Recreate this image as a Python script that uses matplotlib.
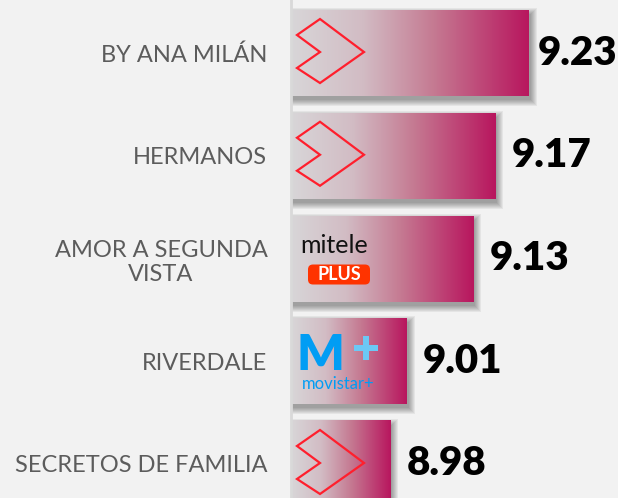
import numpy as np
import matplotlib.pyplot as plt
from matplotlib.colors import LinearSegmentedColormap
from matplotlib.patches import Rectangle, Polygon, FancyBboxPatch

# ratings per show
shows = ['BY ANA MILÁN', 'HERMANOS', 'AMOR A SEGUNDA\nVISTA', 'RIVERDALE', 'SECRETOS DE FAMILIA']
scores = [9.23, 9.17, 9.13, 9.01, 8.98]
platforms = ['atresplayer', 'atresplayer', 'mitele', 'movistar', 'atresplayer']

bg = '#f2f2f2'
grad_cmap = LinearSegmentedColormap.from_list(
    'grad', [(0, '#d8d6d8'), (0.3, '#d2bcc4'), (0.6, '#c57a92'), (1, '#b8165e')])

fig = plt.figure(figsize=(6.18, 4.98), dpi=100, facecolor=bg)
ax = fig.add_axes([291 / 618, 0, 327 / 618, 1])
ax.set_facecolor(bg)

xmin, xmax = 8.80, 9.392
bar_h = 0.837
ypos = np.arange(len(shows))
grad = np.linspace(0, 1, 256).reshape(1, -1)


def to_in(x, y):
    # data -> inches from figure bottom-left
    return ax.transData.transform((x, y)) / fig.dpi


ax.set_xlim(xmin, xmax)
ax.set_ylim(4.331, -0.516)
T = fig.dpi_scale_trans
P = 1 / fig.dpi  # one pixel in inches

for y, v in zip(ypos, scores):
    # soft drop shadow
    (l, b) = to_in(xmin, y + bar_h / 2)
    (r, t) = to_in(v, y - bar_h / 2)
    for i in range(7):
        ax.add_patch(Rectangle((l + 2 * P - i * P, b - 4 * P - i * P),
                               (r - l) + 2 * i * P, (t - b) + 2 * i * P,
                               transform=T, facecolor='black', edgecolor='none',
                               alpha=0.055, zorder=1))
    ax.imshow(grad, extent=(xmin, v, y + bar_h / 2, y - bar_h / 2),
              cmap=grad_cmap, aspect='auto', zorder=2, interpolation='bicubic')

ax.set_xlim(xmin, xmax)
ax.set_ylim(4.331, -0.516)
ax.set_aspect('auto')

# logos
for y, p in zip(ypos, platforms):
    cx, cy = to_in(xmin, y)
    if p == 'atresplayer':
        pts = [(6, 18), (29, 34), (73, 1), (29, -30), (6, -15), (29, 1)]
        ax.add_patch(Polygon([(cx + a * P, cy + c * P) for a, c in pts], closed=True,
                             fill=False, edgecolor='#ff1f2d', linewidth=1.6,
                             transform=T, zorder=3, joinstyle='miter'))
    elif p == 'mitele':
        ax.text(cx + 9 * P, cy + 13 * P, 'mitele', transform=T, fontsize=18,
                family='Lato', color='#111111', va='center', ha='left', zorder=3)
        ax.add_patch(FancyBboxPatch((cx + 17 * P, cy - 26 * P), 62 * P, 20 * P,
                                    boxstyle='round,pad=0,rounding_size=0.05',
                                    transform=T, facecolor='#ff3300',
                                    edgecolor='none', zorder=3))
        ax.text(cx + 48 * P, cy - 16 * P, 'PLUS', transform=T, fontsize=13,
                family='Lato', weight='bold', color='white', va='center',
                ha='center', zorder=4)
    elif p == 'movistar':
        ax.text(cx + 6 * P, cy + 6 * P, 'M', transform=T, fontsize=36,
                family='Lato', weight='heavy', color='#019df4', va='center',
                ha='left', zorder=3)
        ax.add_patch(Rectangle((cx + 63 * P, cy + 10 * P), 24 * P, 6 * P,
                               transform=T, facecolor='#6cc8f5', zorder=3))
        ax.add_patch(Rectangle((cx + 72 * P, cy + 1 * P), 6 * P, 24 * P,
                               transform=T, facecolor='#6cc8f5', zorder=3))
        ax.text(cx + 11 * P, cy - 23 * P, 'movistar+', transform=T, fontsize=12,
                family='Lato', color='#019df4', va='center', ha='left', zorder=3)

# value labels
fig.canvas.draw()
renderer = fig.canvas.get_renderer()
for y, v in zip(ypos, scores):
    ex, ey = to_in(v, y)
    txt = ax.text(ex + 16 * P, ey, f'{v:.2f}', transform=T, fontsize=29,
                  family='Lato', weight='heavy', color='black', va='center',
                  ha='left', zorder=3, clip_on=False)
    bb = txt.get_window_extent(renderer)
    if bb.x1 > fig.bbox.x1 - 1:
        txt.set_position((ex + 16 * P - (bb.x1 - fig.bbox.x1 + 1) / fig.dpi, ey))

ax.set_yticks(ypos)
ax.set_yticklabels(shows, fontsize=17, family='Lato', weight='normal', color='#5c5c5c')
for lab in ax.get_yticklabels():
    lab.set_multialignment('center')
    lab.set_linespacing(1.2)
ax.tick_params(axis='y', length=0, pad=17)
ax.set_xticks([])
for s in ['top', 'right', 'bottom']:
    ax.spines[s].set_visible(False)
ax.spines['left'].set_color('#d9d9d9')
ax.spines['left'].set_linewidth(2)

fig.savefig('out.png', dpi=100, facecolor=bg)
